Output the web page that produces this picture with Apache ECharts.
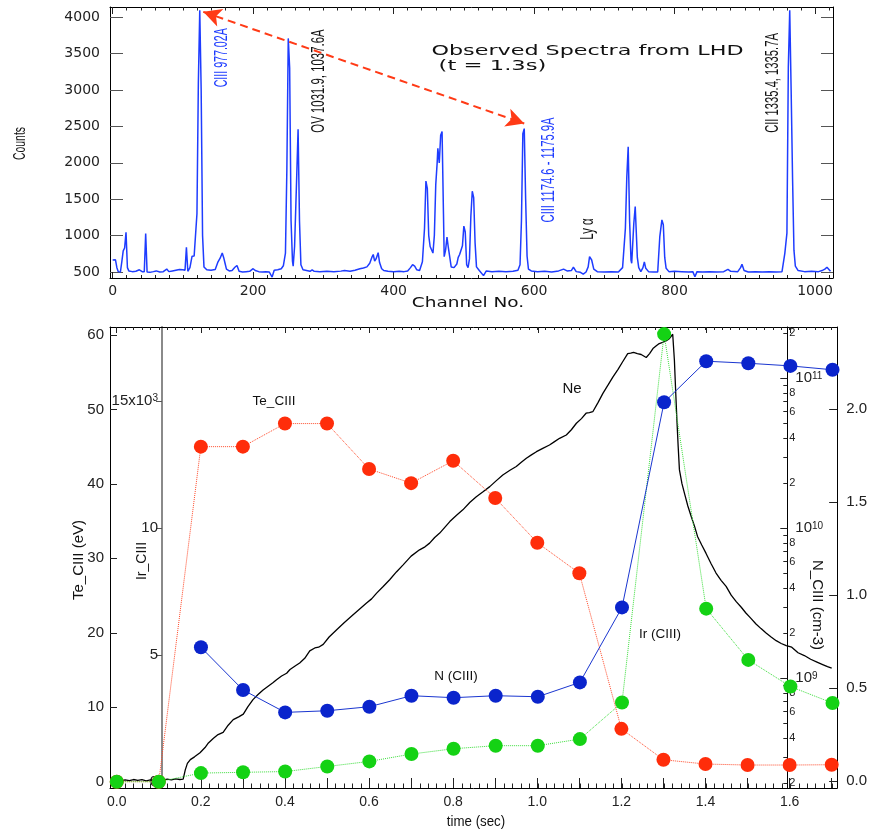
<!DOCTYPE html>
<html>
<head>
<meta charset="utf-8">
<script src="https://cdn.jsdelivr.net/npm/echarts@6/dist/echarts.min.js"></script>
<style>
  html, body { margin: 0; padding: 0; background: #fff; }
  #chart { width: 870px; height: 834px; }
</style>
</head>
<body>
<div id="chart"></div>
<script>
// ---------- Observed VUV spectrum (t = 1.3 s) ----------
const spectrumChannel = [
  0, 4, 6, 8, 11, 13, 15, 17, 19, 21, 23, 28, 33, 38, 42, 45, 47, 49, 53, 58,
  62, 67, 72, 77, 80, 85, 90, 95, 100, 103, 105, 107, 110, 113, 116, 118, 120, 122, 124, 126,
  128, 130, 134, 140, 146, 150, 153, 156, 158, 160, 162, 166, 170, 174, 177, 180, 185, 190, 195, 200,
  203, 208, 213, 218, 223, 227, 230, 235, 240, 243, 246, 248, 250, 252, 254, 256, 257, 259, 262, 264,
  266, 268, 271, 276, 281, 284, 287, 295, 305, 315, 325, 330, 338, 345, 352, 357, 362, 366, 369, 371,
  373, 375, 378, 380, 383, 386, 392, 400, 408, 415, 420, 424, 427, 430, 433, 437, 441, 444, 446, 448,
  450, 452, 454, 456, 458, 460, 462, 463, 465, 467, 469, 471, 472, 474, 476, 478, 480, 482, 486, 490,
  492, 494, 496, 498, 500, 502, 504, 506, 508, 510, 512, 514, 516, 518, 522, 528, 532, 540, 550, 560,
  570, 577, 580, 582, 584, 586, 588, 590, 592, 596, 605, 615, 625, 635, 642, 647, 653, 656, 660, 666,
  670, 674, 677, 679, 682, 685, 690, 700, 710, 720, 726, 730, 732, 734, 736, 738, 739, 742, 744, 745,
  747, 749, 752, 755, 757, 759, 763, 770, 776, 779, 782, 784, 786, 788, 792, 800, 810, 820, 826, 829,
  832, 840, 850, 860, 870, 876, 880, 890, 894, 896, 899, 905, 915, 925, 935, 945, 953, 957, 960, 962,
  964, 966, 968, 970, 972, 976, 985, 995, 1005, 1010, 1014, 1017, 1019, 1022
];
const spectrumCounts = [
  665, 668, 560, 505, 500, 640, 790, 830, 1045, 560, 515, 505, 510, 530, 505, 505, 1030, 500, 495, 505,
  515, 500, 505, 540, 505, 515, 525, 535, 530, 525, 840, 510, 560, 715, 720, 700, 1300, 3100, 4095, 3000,
  1000, 570, 530, 525, 535, 640, 690, 760, 700, 620, 540, 515, 520, 565, 590, 510, 500, 505, 510, 545,
  520, 505, 500, 505, 500, 430, 525, 530, 545, 585, 760, 1900, 3710, 3300, 1200, 650, 580, 850, 1800, 2460,
  1200, 600, 530, 520, 510, 530, 510, 505, 510, 505, 512, 520, 510, 525, 545, 555, 570, 620, 700, 740,
  650, 680, 765, 630, 545, 520, 510, 505, 510, 505, 515, 560, 600, 580, 530, 520, 640, 1100, 1750, 1650,
  1000, 850, 840, 760, 1000, 1700, 2000, 2200, 2000, 2380, 2430, 1300, 710, 800, 980, 830, 700, 570, 560, 610,
  700, 740, 760, 860, 1130, 1050, 600, 560, 680, 1270, 1610, 1520, 900, 570, 520, 450, 515, 505, 510, 505,
  510, 525, 600, 1200, 2400, 2470, 1500, 720, 540, 515, 505, 510, 500, 515, 540, 515, 520, 565, 505, 495,
  470, 500, 570, 710, 665, 540, 505, 500, 505, 500, 560, 1100, 1800, 2220, 1200, 665, 620, 1170, 1400, 1400,
  700, 560, 505, 560, 640, 550, 505, 500, 500, 985, 1215, 1150, 700, 550, 505, 510, 505, 500, 505, 435,
  505, 500, 505, 500, 505, 537, 510, 505, 560, 605, 520, 500, 505, 500, 505, 500, 505, 756, 1035, 3320,
  4095, 3000, 1800, 800, 580, 520, 505, 510, 505, 520, 540, 565, 540, 510
];
const channelTicks = [0, 200, 400, 600, 800, 1000];
const countTicks = [500, 1000, 1500, 2000, 2500, 3000, 3500, 4000];
// dashed double arrow linking the two CIII lines [channel, counts]
const arrowStart = [129, 4075];
const arrowEnd = [586, 2540];

// ---------- Time evolution ----------
const sampleTime = [0.0, 0.1, 0.2, 0.3, 0.4, 0.5, 0.6, 0.7, 0.8, 0.9, 1.0, 1.1, 1.2, 1.3, 1.4, 1.5, 1.6, 1.7];
const teCIII = [0, 0, 45.0, 45.0, 48.1, 48.1, 42.0, 40.1, 43.1, 38.1, 32.1, 28.0, 7.1, 2.95, 2.37, 2.24, 2.24, 2.28];
const irCIII = [0, 0, 0.34, 0.37, 0.40, 0.60, 0.80, 1.09, 1.30, 1.42, 1.42, 1.68, 3.12, 17.64, 6.82, 4.80, 3.75, 3.10];
const nTime = [0.2, 0.3, 0.4, 0.5, 0.6, 0.7, 0.8, 0.9, 1.0, 1.1, 1.2, 1.3, 1.4, 1.5, 1.6, 1.7];
const nCIII = [1.61e9, 8.36e8, 5.93e8, 6.08e8, 6.47e8, 7.66e8, 7.43e8, 7.66e8, 7.54e8, 9.40e8, 2.97e9, 6.92e10, 1.30e11, 1.26e11, 1.21e11, 1.14e11];
const neTime = [
  -0.015, 0.0, 0.01, 0.02, 0.03, 0.04, 0.05, 0.06, 0.07, 0.08, 0.09, 0.10, 0.11, 0.12, 0.13, 0.14, 0.15, 0.158, 0.163, 0.168,
  0.175, 0.185, 0.198, 0.21, 0.218, 0.23, 0.241, 0.253, 0.265, 0.277, 0.29, 0.301, 0.312, 0.324, 0.336, 0.348, 0.36, 0.372, 0.38, 0.392,
  0.404, 0.412, 0.425, 0.435, 0.447, 0.459, 0.471, 0.48, 0.491, 0.505, 0.523, 0.54, 0.558, 0.575, 0.594, 0.606, 0.618, 0.633, 0.649, 0.665,
  0.681, 0.70, 0.72, 0.733, 0.744, 0.756, 0.768, 0.78, 0.792, 0.808, 0.823, 0.84, 0.855, 0.871, 0.887, 0.902, 0.918, 0.935, 0.95, 0.962,
  0.974, 0.986, 0.998, 1.013, 1.029, 1.041, 1.053, 1.069, 1.081, 1.093, 1.105, 1.116, 1.124, 1.132, 1.144, 1.156, 1.168, 1.18, 1.192, 1.203,
  1.215, 1.222, 1.229, 1.238, 1.247, 1.259, 1.267, 1.275, 1.283, 1.29, 1.298, 1.306, 1.314, 1.322, 1.326, 1.329, 1.332, 1.335, 1.338, 1.344,
  1.35, 1.358, 1.366, 1.374, 1.381, 1.391, 1.401, 1.413, 1.425, 1.437, 1.449, 1.461, 1.473, 1.485, 1.496, 1.508, 1.52, 1.532, 1.544, 1.556,
  1.568, 1.58, 1.592, 1.605, 1.62, 1.635, 1.65, 1.665, 1.68, 1.69, 1.70
];
const neValue = [
  0.004, 0.004, 0.0, 0.006, 0.002, 0.008, 0.003, 0.007, 0.001, 0.006, 0.004, 0.008, 0.005, 0.010, 0.006, 0.011, 0.008, 0.010, 0.06, 0.095,
  0.115, 0.13, 0.152, 0.18, 0.205, 0.23, 0.25, 0.262, 0.30, 0.33, 0.345, 0.36, 0.40, 0.438, 0.465, 0.49, 0.51, 0.53, 0.545, 0.565,
  0.58, 0.60, 0.62, 0.635, 0.66, 0.70, 0.716, 0.72, 0.735, 0.775, 0.814, 0.85, 0.886, 0.92, 0.958, 0.98, 1.011, 1.045, 1.083, 1.125,
  1.163, 1.21, 1.244, 1.26, 1.28, 1.31, 1.334, 1.365, 1.396, 1.43, 1.459, 1.50, 1.53, 1.556, 1.584, 1.615, 1.647, 1.672, 1.692, 1.715,
  1.737, 1.755, 1.772, 1.79, 1.808, 1.826, 1.844, 1.862, 1.89, 1.925, 1.95, 1.979, 1.982, 1.987, 2.035, 2.086, 2.13, 2.175, 2.215, 2.256,
  2.30, 2.302, 2.306, 2.30, 2.295, 2.279, 2.30, 2.327, 2.342, 2.354, 2.36, 2.368, 2.38, 2.404, 2.265, 2.10, 1.942, 1.80, 1.674, 1.60,
  1.548, 1.48, 1.423, 1.37, 1.316, 1.27, 1.226, 1.17, 1.119, 1.08, 1.047, 1.0, 0.965, 0.935, 0.904, 0.875, 0.845, 0.82, 0.796, 0.775,
  0.755, 0.74, 0.728, 0.72, 0.69, 0.675, 0.655, 0.64, 0.625, 0.615, 0.607
];
const timeLabels = [0.0, 0.2, 0.4, 0.6, 0.8, 1.0, 1.2, 1.4, 1.6];
const timeMajor = [0.0, 0.1, 0.2, 0.3, 0.4, 0.5, 0.6, 0.7, 0.8, 0.9, 1.0, 1.1, 1.2, 1.3, 1.4, 1.5, 1.6, 1.7];
const teTicks = [0, 10, 20, 30, 40, 50, 60];
const irTicks = [0, 5, 10, 15];
const neTicks = [0.0, 0.5, 1.0, 1.5, 2.0];
const nDecades = [1e9, 1e10, 1e11];
const nMantissaTicks = [2, 3, 4, 5, 6, 7, 8, 9];
const nMantissaLabels = [2, 4, 6, 8];

// ---------- helpers ----------
const pairs = (xs, ys) => xs.map((x, i) => [x, ys[i]]);
const stepList = (from, to, step) => {
  const out = [];
  for (let k = 0; from + k * step <= to + 1e-9; k++) out.push(+(from + k * step).toFixed(6));
  return out;
};
const channelMinor = stepList(0, 1020, 20);
const timeMinor = stepList(0, 1.7, 0.02);
const N_MIN = 1.858e8, N_MAX = 2.198e11;
const nMinorTicks = [], nMinorLabels = [];
[1e8, 1e9, 1e10, 1e11].forEach(d => {
  nMantissaTicks.forEach(m => { const v = m * d; if (v >= N_MIN && v <= N_MAX) nMinorTicks.push(v); });
  nMantissaLabels.forEach(m => { const v = m * d; if (v >= N_MIN && v <= N_MAX) nMinorLabels.push(v); });
});

const WIDE = 'DejaVu Sans';
const SANS = 'Liberation Sans';
const BLUE_SPEC = '#1e3cff';
const RED = '#ff2d0a';
const GREEN = '#14d214';
const BLUE = '#0a24cc';

const noLine = { show: false, onZero: false };
const line = (c, w) => ({ show: true, onZero: false, lineStyle: { color: c || '#000', width: w || 1 } });
const ticks = (values, len, inside, color) => ({
  show: true, inside: inside, length: len, customValues: values,
  lineStyle: { color: color || '#222', width: 1 }
});
const noLabel = { show: false };
const base = { type: 'value', splitLine: { show: false }, minorTick: { show: false } };

const grids = [
  { left: 110, top: 7, width: 723, height: 271 },   // spectrum
  { left: 110, top: 7, width: 723, height: 271 },   // spectrum mirror ticks
  { left: 110, top: 327, width: 728, height: 461 }, // Te / Ne
  { left: 110, top: 327, width: 728, height: 461 }, // Ir / N
  { left: 110, top: 327, width: 728, height: 461 }  // N minor ticks
];
const CH = { min: -3.8, max: 1025.6 };
const TM = { min: -0.016, max: 1.713 };

const xAxes = [
  Object.assign({}, base, CH, { gridIndex: 0, position: 'bottom', axisLine: line(),
    axisTick: ticks(channelTicks, 6, true),
    axisLabel: { customValues: channelTicks, formatter: v => String(v), margin: 6,
      fontFamily: WIDE, fontSize: 14, color: '#222' } }),
  Object.assign({}, base, CH, { gridIndex: 0, position: 'top', axisLine: line(),
    axisTick: ticks(channelMinor, 3.5, true), axisLabel: noLabel }),
  Object.assign({}, base, CH, { gridIndex: 1, position: 'top', axisLine: noLine,
    axisTick: ticks(channelTicks, 7, true), axisLabel: noLabel }),
  Object.assign({}, base, CH, { gridIndex: 1, position: 'bottom', axisLine: noLine,
    axisTick: ticks(channelMinor, 3, true), axisLabel: noLabel }),

  Object.assign({}, base, TM, { gridIndex: 2, position: 'bottom', axisLine: line(),
    axisTick: ticks(timeMajor, 10, true),
    axisLabel: { customValues: timeLabels, formatter: v => v.toFixed(1), margin: 7,
      fontFamily: SANS, fontSize: 14, color: '#222' } }),
  Object.assign({}, base, TM, { gridIndex: 2, position: 'top', axisLine: line(),
    axisTick: ticks(timeMinor, 3, true), axisLabel: noLabel }),
  Object.assign({}, base, TM, { gridIndex: 3, position: 'top', axisLine: noLine,
    axisTick: ticks(timeLabels, 6, true), axisLabel: noLabel }),
  Object.assign({}, base, TM, { gridIndex: 3, position: 'bottom', axisLine: noLine,
    axisTick: ticks(timeMinor, 4.5, true), axisLabel: noLabel }),
  Object.assign({}, base, TM, { gridIndex: 4, position: 'bottom', show: false, axisLine: noLine })
];

const supRich = {
  m: { fontFamily: SANS, fontSize: 15, color: '#222' },
  b: { fontFamily: SANS, fontSize: 15, color: '#222', padding: [0, 0, 0, 6] },
  s: { fontFamily: SANS, fontSize: 10, color: '#222', verticalAlign: 'top' }
};

const yAxes = [
  Object.assign({}, base, { gridIndex: 0, position: 'left', min: 417.5, max: 4141.5, axisLine: line(),
    axisTick: ticks(countTicks, 13, true, '#555'),
    axisLabel: { customValues: countTicks, formatter: v => String(v), margin: 10,
      fontFamily: WIDE, fontSize: 14, color: '#222' } }),
  Object.assign({}, base, { gridIndex: 0, position: 'right', min: 417.5, max: 4141.5, axisLine: line(),
    axisTick: ticks(countTicks, 12, true, '#555'), axisLabel: noLabel }),
  Object.assign({}, base, { gridIndex: 1, position: 'left', min: 417.5, max: 4141.5, show: false, axisLine: noLine }),

  // Te_CIII (eV)
  Object.assign({}, base, { gridIndex: 2, position: 'left', min: -0.846, max: 61.07, axisLine: line(),
    axisTick: ticks(teTicks, 7, true),
    axisLabel: { customValues: teTicks, margin: 6, fontFamily: SANS, fontSize: 15, color: '#222' } }),
  // Ne
  Object.assign({}, base, { gridIndex: 2, position: 'right', min: -0.0377, max: 2.443, axisLine: line(),
    axisTick: ticks(neTicks, 8, true),
    axisLabel: { customValues: neTicks, formatter: v => v.toFixed(1), margin: 9,
      fontFamily: SANS, fontSize: 15, color: '#222' } }),
  // Ir_CIII (x10^3)
  Object.assign({}, base, { gridIndex: 3, position: 'left', offset: -52, min: -0.248, max: 17.92,
    axisLine: line('#8a8a8a', 2),
    axisTick: ticks(irTicks, 6, false, '#555'),
    axisLabel: { customValues: irTicks, margin: 4, fontFamily: SANS, fontSize: 15, color: '#222',
      formatter: v => v === 15 ? '{m|15x10}{s|3}' : String(v), rich: supRich } }),
  // N_CIII (cm-3), decades
  Object.assign({}, base, { type: 'log', gridIndex: 3, position: 'right', offset: -50.7, min: N_MIN, max: N_MAX,
    axisLine: line(),
    axisTick: ticks(nDecades, 7, true),
    axisLabel: { customValues: nDecades, margin: 2, fontFamily: SANS, fontSize: 15, color: '#222',
      formatter: v => '{b|10}{s|' + Math.round(Math.log10(v)) + '}', rich: supRich } }),
  // N_CIII (cm-3), 2..9 within each decade
  Object.assign({}, base, { type: 'log', gridIndex: 4, position: 'right', offset: -50.7, min: N_MIN, max: N_MAX,
    axisLine: noLine,
    axisTick: ticks(nMinorTicks, 4, true),
    axisLabel: { customValues: nMinorLabels, margin: 2, fontFamily: SANS, fontSize: 11, color: '#222',
      formatter: v => String(Math.round(v / Math.pow(10, Math.floor(Math.log10(v) + 1e-9)))) } })
];

const dotSeries = (name, xIdx, yIdx, data, color, lineType, lineColor) => ({
  name, type: 'line', xAxisIndex: xIdx, yAxisIndex: yIdx, data,
  symbol: 'circle', symbolSize: 14, showSymbol: true,
  itemStyle: { color: color },
  lineStyle: { color: lineColor || color, width: 1, type: lineType },
  emphasis: { disabled: true }
});

// annotation text helper
const note = (text, x, y, o) => ({
  type: 'text', x, y, rotation: o.rot || 0, scaleX: o.sx || 1, scaleY: 1, silent: true,
  style: {
    text, fill: o.color || '#111', fontFamily: o.family || SANS, fontSize: o.size || 14,
    fontWeight: o.weight || 'normal',
    align: 'center', verticalAlign: 'middle', textAlign: 'center', textVerticalAlign: 'middle'
  }
});
const UP = Math.PI / 2;

const option = {
  animation: false,
  backgroundColor: '#fff',
  grid: grids,
  xAxis: xAxes,
  yAxis: yAxes,
  series: [
    {
      name: 'spectrum', type: 'line', xAxisIndex: 0, yAxisIndex: 0,
      data: pairs(spectrumChannel, spectrumCounts), showSymbol: false, symbol: 'none',
      lineStyle: { color: BLUE_SPEC, width: 1.5 }, emphasis: { disabled: true },
      markLine: {
        silent: true, animation: false,
        symbol: ['arrow', 'arrow'], symbolSize: [14, 18],
        label: { show: false },
        lineStyle: { color: '#ff3a16', width: 2, type: [8, 5] },
        emphasis: { disabled: true },
        data: [[{ coord: arrowStart }, { coord: arrowEnd }]]
      }
    },
    {
      name: 'Ne', type: 'line', xAxisIndex: 4, yAxisIndex: 4,
      data: pairs(neTime, neValue), showSymbol: false, symbol: 'none',
      lineStyle: { color: '#000', width: 1.3 }, emphasis: { disabled: true }
    },
    dotSeries('Te_CIII', 4, 3, pairs(sampleTime, teCIII), RED, 'dotted', '#ff4a2a'),
    dotSeries('Ir (CIII)', 6, 5, pairs(sampleTime, irCIII), GREEN, 'dotted', '#3ade3a'),
    dotSeries('N (CIII)', 6, 6, pairs(nTime, nCIII), BLUE, 'solid', '#1a36d0')
  ],
  graphic: [
    // spectrum panel
    note('Counts', 20.5, 143.5, { rot: UP, size: 16, sx: 0.65 }),
    note('Channel No.', 468, 303, { family: WIDE, size: 14, sx: 1.32 }),
    note('Observed Spectra from LHD', 587.5, 51, { family: WIDE, size: 14, sx: 1.59 }),
    note('(t = 1.3s)', 492.5, 66, { family: WIDE, size: 14, sx: 1.62 }),
    note('CIII 977.02A', 221.7, 57.8, { rot: UP, size: 19, sx: 0.56, color: BLUE_SPEC }),
    note('OV 1031.9, 1037.6A', 319, 81, { rot: UP, size: 19, sx: 0.6 }),
    note('CIII 1174.6 - 1175.9A', 549, 170, { rot: UP, size: 19, sx: 0.59, color: BLUE_SPEC }),
    note('Ly α', 588, 229, { rot: UP, size: 19, sx: 0.6 }),
    note('CII 1335.4, 1335.7A', 773, 83, { rot: UP, size: 19, sx: 0.59 }),
    // time-evolution panel
    note('Te_CIII (eV)', 78.5, 560, { rot: UP, size: 15 }),
    note('Ir_CIII', 142, 561, { rot: UP, size: 14 }),
    note('N_CIII (cm-3)', 817.5, 605, { rot: -UP, size: 15 }),
    note('time (sec)', 476, 822, { size: 14, sx: 0.95 }),
    note('Te_CIII', 274, 401, { size: 13.5 }),
    note('Ne', 572, 389, { size: 15 }),
    note('N (CIII)', 456, 676, { size: 13.5 }),
    note('Ir (CIII)', 660, 634, { size: 13.5 })
  ]
};

const chart = echarts.init(document.getElementById('chart'), null, { renderer: 'canvas' });
chart.setOption(option);
</script>
</body>
</html>
